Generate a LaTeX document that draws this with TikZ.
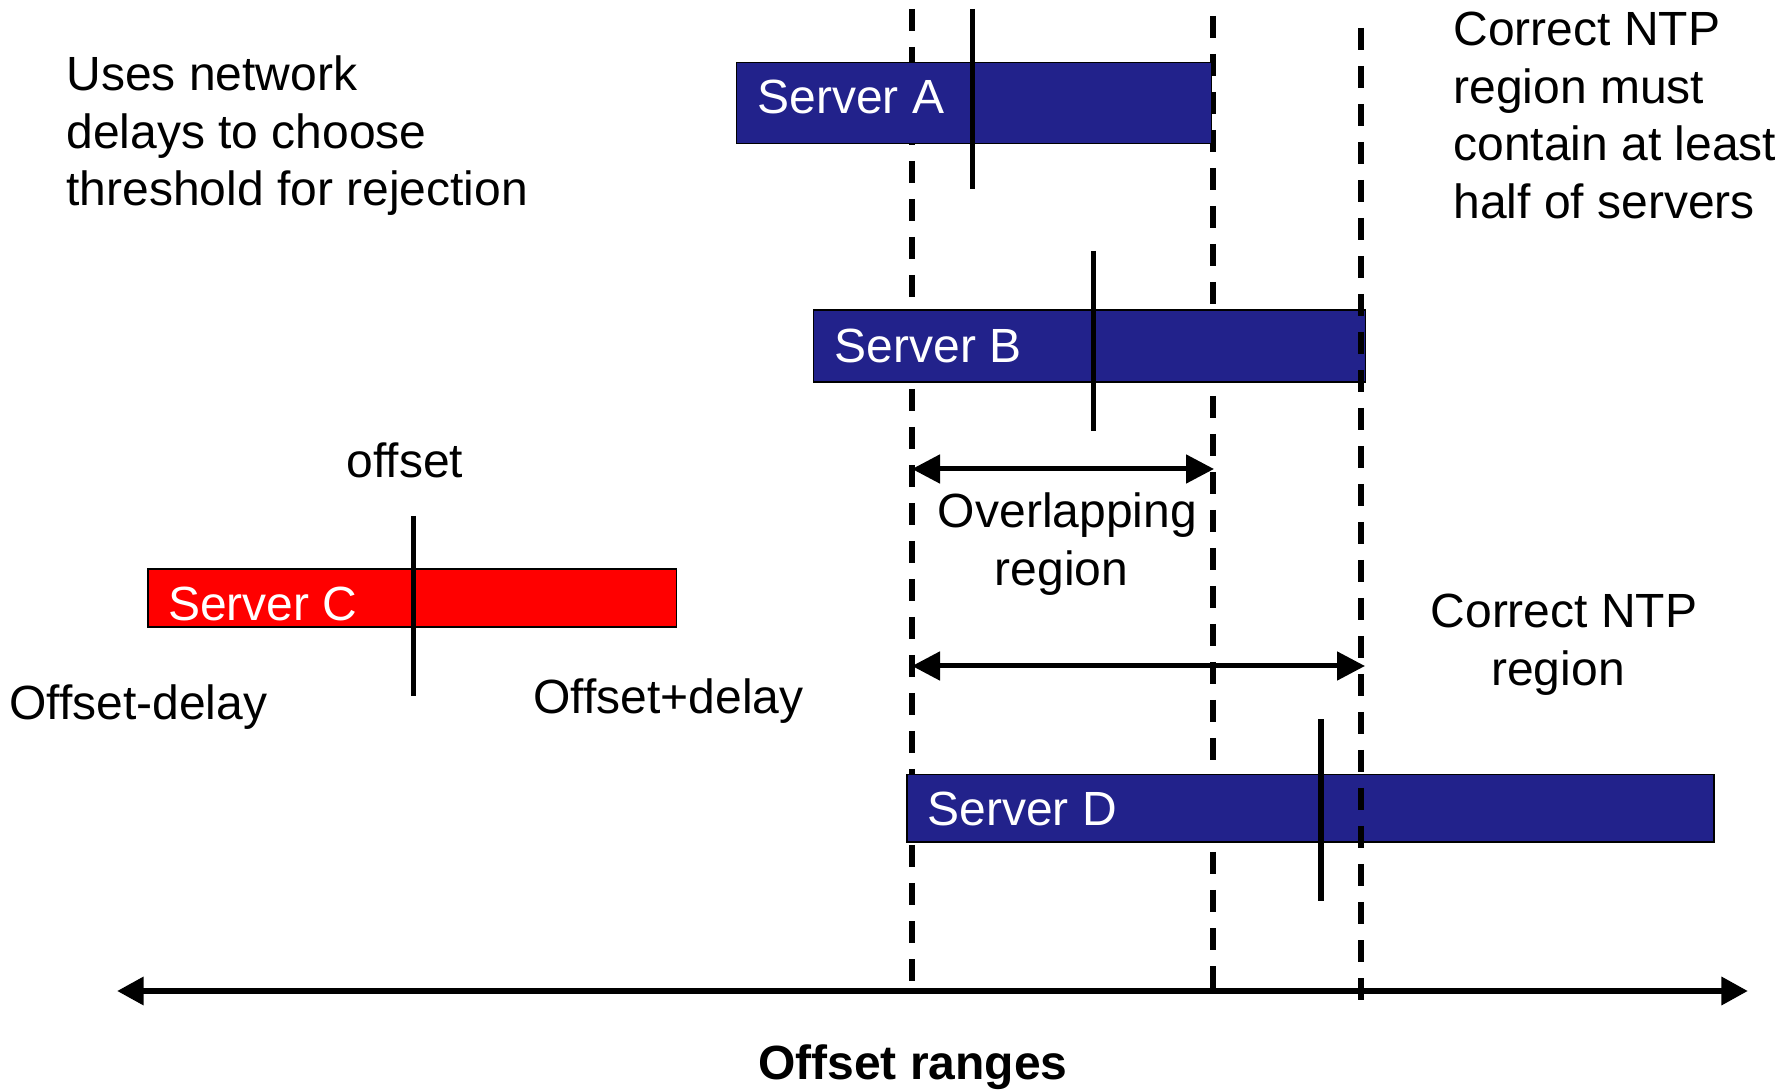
\documentclass[tikz,border=0pt]{standalone}
\usepackage{fontspec}
\setmainfont{Liberation Sans}
\usetikzlibrary{arrows.meta}
\definecolor{navy}{RGB}{34,34,139}
\definecolor{srvred}{RGB}{255,0,0}
\begin{document}
\begin{tikzpicture}[x=0.5pt,y=-0.5pt,
  txt/.style={font=\fontsize{24}{28.8}\selectfont, inner sep=0pt},
  btxt/.style={font=\fontsize{24}{28.8}\selectfont\bfseries, inner sep=0pt},
  wtxt/.style={txt, text=white, anchor=base west},
  bar/.style={draw=black, line width=0.6pt, inner sep=0pt, anchor=north west},
  guide/.style={line width=2.8pt, dash pattern=on 11pt off 8pt},
  tick/.style={line width=2.8pt},
  dim/.style={line width=2.5pt, {Triangle[length=14pt,width=14pt]}-{Triangle[length=14pt,width=14pt]}},
  axis/.style={line width=3.2pt, {Triangle[length=13.3pt,width=13.5pt]}-{Triangle[length=13.3pt,width=13.5pt]}},
]
\useasboundingbox (0,0) rectangle (1790,1090);

% guide lines (behind boxes)
\coordinate (g1t) at (912,9);    \coordinate (g1b) at (912,982);
\coordinate (g2t) at (1213,16);  \coordinate (g2b) at (1213,991);
\coordinate (g3t) at (1361,28);  \coordinate (g3b) at (1361,1002);
\draw[guide] (g1t) -- (g1b);
\draw[guide] (g2t) -- (g2b);

% server bars
\node[bar, fill=navy, minimum width=237.5pt, minimum height=40.5pt] (barA) at (736,61.6) {};
\node[bar, fill=navy, minimum width=276pt, minimum height=36pt] (barB) at (813,309.4) {};
\node[bar, fill=srvred, minimum width=264.25pt, minimum height=29pt] (barC) at (147.3,568.5) {};
\node[bar, fill=navy, minimum width=403.5pt, minimum height=33.7pt] (barD) at (906.4,774) {};

\draw[guide] (g3t) -- (g3b);

% offset ticks
\coordinate (oAt) at (972.6,9);    \coordinate (oAb) at (972.6,189.5);
\coordinate (oBt) at (1093.6,251); \coordinate (oBb) at (1093.6,431.5);
\coordinate (oCt) at (413.3,516);  \coordinate (oCb) at (413.3,696.4);
\coordinate (oDt) at (1320.8,719.2); \coordinate (oDb) at (1320.8,900.7);
\draw[tick] (oAt) -- (oAb);
\draw[tick] (oBt) -- (oBb);
\draw[tick] (oCt) -- (oCb);
\draw[tick] (oDt) -- (oDb);

% server labels
\node[wtxt] (lA) at (757,114) {Server A};
\node[wtxt] (lB) at (834.5,363) {Server B};
\node[wtxt] (lC) at (167.8,621) {Server C};
\node[wtxt] (lD) at (927,826) {Server D};

% dimension arrows
\coordinate (ovL) at (912,469);  \coordinate (ovR) at (1214,469);
\coordinate (crL) at (912,666);  \coordinate (crR) at (1365,666);
\draw[dim] (ovL) -- (ovR);
\draw[dim] (crL) -- (crR);

% axis
\coordinate (axL) at (117,991); \coordinate (axR) at (1748,991);
\draw[axis] (axL) -- (axR);

% texts
\node[txt, align=left, anchor=west] (uses) at (66,135.7) {Uses network\\delays to choose\\threshold for rejection};
\node[txt, align=left, anchor=west] (note) at (1453,115.3) {Correct NTP\\region must\\contain at least\\half of servers};
\node[txt, anchor=base] (offl) at (405,478) {offset};
\node[txt, anchor=base west] (odl) at (9,720) {Offset-delay};
\node[txt, anchor=base west] (opl) at (533,714) {Offset+delay};
\node[txt, align=center] (ovt) at (1067.4,543.8) {Overlapping\\region\hspace*{6pt}};
\node[txt, align=center] (crt) at (1564,645) {Correct NTP\\region\hspace*{6pt}};
\node[btxt, anchor=base] (rng) at (913,1079) {Offset ranges};
\end{tikzpicture}
\end{document}
